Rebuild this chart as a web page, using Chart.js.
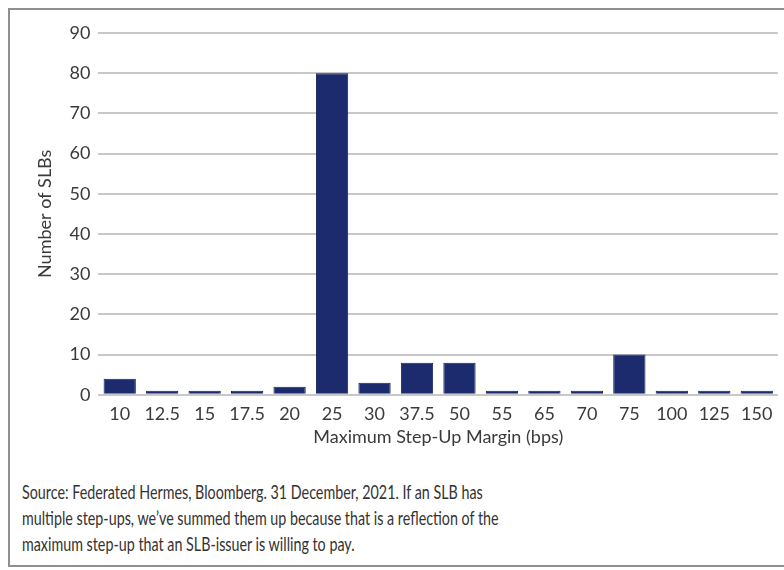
<!DOCTYPE html>
<html>
<head>
<meta charset="utf-8">
<script src="https://cdn.jsdelivr.net/npm/chart.js@4"></script>
<style>
    body { margin: 0; background: #fff; width: 784px; height: 570px; overflow: hidden; position: relative; }
    #frame { position: absolute; left: 8px; top: 8px; width: 790px; height: 559px; border: 2px solid #8f8f8f; border-right: none; box-sizing: border-box; }
    #box { position: absolute; left: 10px; top: 10px; width: 774px; height: 445px; }
    #note { position: absolute; left: 22px; top: 478px; font-family: Lato, sans-serif; font-size: 20px; line-height: 26px; color: #333; white-space: nowrap; transform: scaleX(0.715); transform-origin: 0 0; }
</style>
</head>
<body>
<div id="frame"></div>
<div id="box"><canvas id="myChart"></canvas></div>
<div id="note">Source: Federated Hermes, Bloomberg. 31 December, 2021. If an SLB has<br>multiple step-ups, we’ve summed them up because that is a reflection of the<br>maximum step-up that an SLB-issuer is willing to pay.</div>
<script>
let margins = ["10", "12.5", "15", "17.5", "20", "25", "30", "37.5", "50", "55", "65", "70", "75", "100", "125", "150"];
let anzahl = [4, 1, 1, 1, 2, 80, 3, 8, 8, 1, 1, 1, 10, 1, 1, 1];

const schrift = 'Lato, sans-serif';

const config =
{
    type: 'bar',
    data: {
        labels: margins,
        datasets:
        [
            {
                label: 'Number of SLBs',
                data: anzahl,
                backgroundColor: '#1c2a6e',
                borderColor: '#16215a',
                borderWidth: 1,
                barPercentage: 0.76,
                categoryPercentage: 1
            }
        ]
    },
    options: {
        responsive: true,
        maintainAspectRatio: false,
        animation: false,
        layout: { padding: { top: 23, right: 6, left: 20, bottom: 3 } },
        plugins: { legend: { display: false }, tooltip: { enabled: false } },
        scales: {
            x: {
                grid: { display: false },
                border: { display: false },
                ticks: { color: '#3a3a3a', font: { family: schrift, size: 18 }, padding: 1, maxRotation: 0, autoSkip: false },
                title: { display: true, text: 'Maximum Step-Up Margin (bps)', color: '#3a3a3a', font: { family: schrift, size: 18 }, padding: { top: 0, bottom: 4 } }
            },
            y: {
                min: 0,
                max: 90,
                ticks: { stepSize: 10, color: '#3a3a3a', font: { family: schrift, size: 18 }, padding: 8 },
                grid: { color: '#c8c8c8', lineWidth: 2, drawTicks: false },
                border: { display: false },
                title: { display: true, text: 'Number of SLBs', color: '#3a3a3a', font: { family: schrift, size: 18 }, padding: { bottom: 6 } }
            }
        }
    }
};

new Chart(document.getElementById("myChart"), config);
</script>
</body>
</html>
